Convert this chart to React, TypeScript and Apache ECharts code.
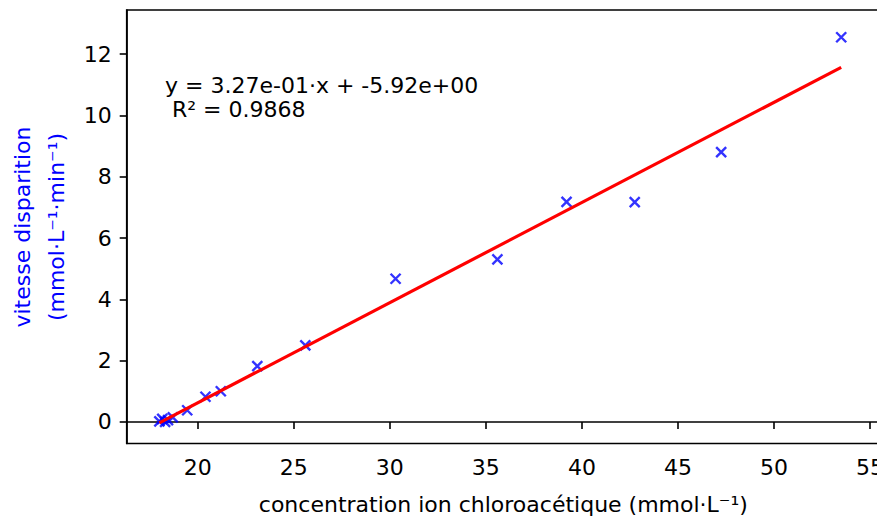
import React, { useEffect, useRef } from "react";
import * as echarts from "echarts";

// Measured points (concentration ion chloroacétique, vitesse disparition)
const concentration = [18.0, 18.15, 18.3, 18.45, 18.7, 19.45, 20.4, 21.2, 23.1, 25.6, 30.3, 35.6, 39.2, 42.75, 47.25, 53.5];
const vitesse = [0.02, 0.1, 0.0, 0.06, 0.15, 0.38, 0.82, 1.0, 1.82, 2.5, 4.67, 5.3, 7.18, 7.17, 8.8, 12.55];

// Fitted regression line end points
const fitX = [18.0, 53.5];
const fitY = [-0.03, 11.57];

const xTicks = [20, 25, 30, 35, 40, 45, 50, 55];
const yTicks = [0, 2, 4, 6, 8, 10, 12];

const equationText = "y = 3.27e-01·x + -5.92e+00";
const r2Text = "R² = 0.9868";
const xName = "concentration ion chloroacétique (mmol·L⁻¹)";
const yName1 = "vitesse disparition";
const yName2 = "(mmol·L⁻¹·min⁻¹)";

const FONT = "DejaVu Sans";

export default function App() {
  const ref = useRef<HTMLDivElement>(null);
  useEffect(() => {
    if (!ref.current) return;
    const chart = echarts.init(ref.current, null, { renderer: "svg" });
    chart.setOption({
      animation: false,
      backgroundColor: "#ffffff",
      textStyle: { fontFamily: FONT },
      grid: {
        left: 126.7,
        top: 10,
        right: -3,
        bottom: 75.5,
        outerBoundsMode: "none",
        containLabel: false,
        show: true,
        borderColor: "#000",
        borderWidth: 1.6,
        backgroundColor: "transparent",
      },
      xAxis: {
        type: "value",
        min: 16.3,
        max: 55.52,
        name: xName,
        nameLocation: "middle",
        nameGap: 50,
        nameTextStyle: { fontSize: 22, color: "#000", fontFamily: FONT },
        axisLine: { show: true, lineStyle: { color: "#000", width: 1.6 } },
        axisTick: { show: true, customValues: xTicks, length: 7, lineStyle: { color: "#000", width: 1.6 } },
        axisLabel: { customValues: xTicks, fontSize: 22, color: "#000", margin: 13, fontFamily: FONT, hideOverlap: false },
        splitLine: { show: false },
      },
      yAxis: {
        type: "value",
        min: -0.705,
        max: 13.44,
        axisLine: { show: true, lineStyle: { color: "#000", width: 1.6 } },
        axisTick: { show: true, customValues: yTicks, length: 7, lineStyle: { color: "#000", width: 1.6 } },
        axisLabel: { customValues: yTicks, fontSize: 22, color: "#000", margin: 15, fontFamily: FONT },
        splitLine: { show: false },
      },
      graphic: [
        {
          type: "text",
          x: 22,
          y: 227,
          rotation: Math.PI / 2,
          style: { text: yName1, fill: "#0000ff", fontSize: 22, fontFamily: FONT, align: "center", verticalAlign: "middle" },
        },
        {
          type: "text",
          x: 56,
          y: 227,
          rotation: Math.PI / 2,
          style: { text: yName2, fill: "#0000ff", fontSize: 22, fontFamily: FONT, align: "center", verticalAlign: "middle" },
        },
        {
          type: "text",
          x: 165,
          y: 85,
          style: { text: equationText, fill: "#000", fontSize: 22, fontFamily: FONT, align: "left", verticalAlign: "middle" },
        },
        {
          type: "text",
          x: 172,
          y: 109.5,
          style: { text: r2Text, fill: "#000", fontSize: 22, fontFamily: FONT, align: "left", verticalAlign: "middle" },
        },
      ],
      series: [
        {
          type: "scatter",
          data: concentration.map((x, i) => [x, vitesse[i]]),
          symbol: "path://M0,0L10,10M10,0L0,10",
          symbolSize: 10,
          itemStyle: { color: "rgba(0,0,0,0)", borderColor: "#0000ff", borderWidth: 2.4 },
          z: 2,
        },
        {
          type: "line",
          data: fitX.map((x, i) => [x, fitY[i]]),
          showSymbol: false,
          symbol: "none",
          lineStyle: { color: "#ff0000", width: 3.2 },
          z: 3,
        },
      ],
    });
    return () => chart.dispose();
  }, []);
  return <div ref={ref} style={{ position: "absolute", left: 0, top: 0, width: 877, height: 519 }} />;
}
